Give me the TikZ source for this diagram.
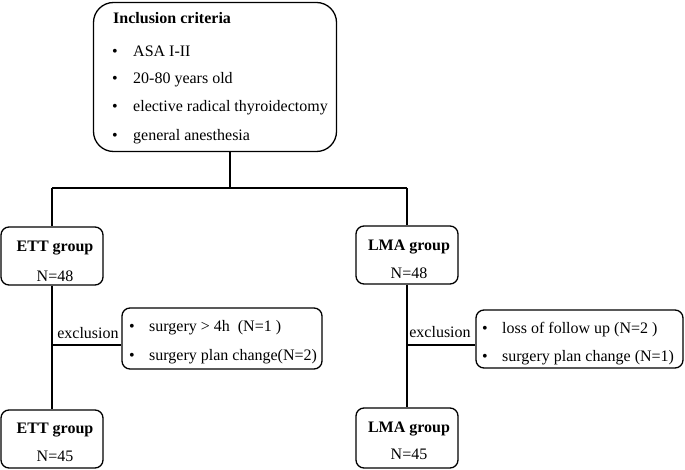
\documentclass[tikz,border=0pt]{standalone}
\usepackage{fontspec}
\setmainfont{Liberation Serif}
\begin{document}
\begin{tikzpicture}[x=1pt,y=-1pt,
  box/.style={draw,line width=1.3pt,rounded corners=#1,inner sep=0pt},
  box/.default=8pt,
  txt/.style={anchor=base west,inner sep=0pt,font=\fontsize{16}{19}\selectfont},
  ctxt/.style={anchor=base,inner sep=0pt,font=\fontsize{16}{19}\selectfont},
  btxt/.style={anchor=base,inner sep=0pt,font=\fontsize{16}{19}\selectfont\bfseries},
  conn/.style={line width=1.3pt}]
\useasboundingbox (0,0) rectangle (685,470);
% top box
\node[box=20pt,minimum width=243pt,minimum height=149pt] (top) at (215,77) {};
\node[txt,font=\fontsize{16}{19}\selectfont\bfseries] (t0) at (113,24) {Inclusion criteria};
\node[txt] (b1) at (112,57) {•};
\node[txt] (b2) at (112,84) {•};
\node[txt] (b3) at (112,112) {•};
\node[txt] (b4) at (112,141) {•};
\node[txt] (t1) at (133,57) {ASA I-II};
\node[txt] (t2) at (133,84) {20-80 years old};
\node[txt] (t3) at (133,112) {elective radical thyroidectomy};
\node[txt] (t4) at (133,141) {general anesthesia};
% group boxes
\node[box,minimum width=102pt,minimum height=58pt] (ett1) at (52,256) {};
\node[btxt] (ett1a) at (55,252) {ETT group};
\node[ctxt] (ett1b) at (55,281) {N=48};
\node[box,minimum width=102pt,minimum height=58pt] (ett2) at (52,439) {};
\node[btxt] (ett2a) at (55,433) {ETT group};
\node[ctxt] (ett2b) at (55,461) {N=45};
\node[box,minimum width=102pt,minimum height=58pt] (lma1) at (407,255) {};
\node[btxt] (lma1a) at (409,251) {LMA group};
\node[ctxt] (lma1b) at (409,279) {N=48};
\node[box,minimum width=102pt,minimum height=60pt] (lma2) at (407,438) {};
\node[btxt] (lma2a) at (409,432) {LMA group};
\node[ctxt] (lma2b) at (409,459) {N=45};
% exclusion boxes
\node[box,minimum width=200pt,minimum height=61pt] (ex1) at (222,338.5) {};
\node[txt] (e1b1) at (129,331) {•};
\node[txt] (e1b2) at (129,360) {•};
\node[txt] (e1t1) at (149,331) {surgery > 4h\ \ (N=1 )};
\node[txt] (e1t2) at (149,360) {surgery plan change(N=2)};
\node[box,minimum width=207pt,minimum height=58pt] (ex2) at (579.5,339) {};
\node[txt] (e2b1) at (482,333) {•};
\node[txt] (e2b2) at (482,361.5) {•};
\node[txt] (e2t1) at (502,333) {loss of follow up (N=2 )};
\node[txt] (e2t2) at (502,361.5) {surgery plan change (N=1)};
% connectors
\coordinate (tb) at (230,0 |- top.south);
\coordinate (split) at (230,188);
\coordinate (jl) at (ett1.north |- split);
\coordinate (jr) at (lma1.north |- split);
\draw[conn] (tb) -- (split);
\draw[conn] (jl) -- (jr);
\draw[conn] (jl) -- (ett1.north);
\draw[conn] (jr) -- (lma1.north);
\draw[conn] (ett1.south) -- (ett2.north);
\draw[conn] (lma1.south) -- (lma2.north);
\coordinate (x1) at (ett1.south |- 0,345);
\coordinate (x2) at (lma1.south |- 0,345);
\draw[conn] (x1) -- (ex1.west |- x1);
\draw[conn] (x2) -- (ex2.west |- x2);
\node[ctxt] (exl1) at (88,338) {exclusion};
\node[ctxt] (exl2) at (440,337.5) {exclusion};
\end{tikzpicture}
\end{document}
